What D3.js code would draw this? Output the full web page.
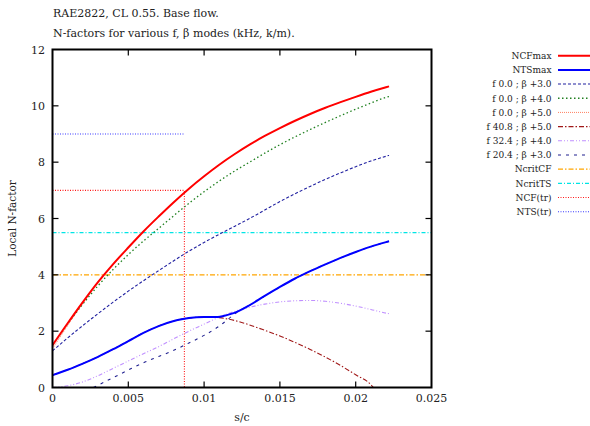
<!DOCTYPE html>
<html>
<head>
<meta charset="utf-8">
<script src="https://cdn.jsdelivr.net/npm/d3@7"></script>
<style>
  html, body { margin: 0; padding: 0; background: #fff; }
  svg { display: block; }
  text { font-family: "DejaVu Serif", serif; fill: #222; }
</style>
</head>
<body>
<svg id="chart" width="590" height="426"></svg>
<script>
// Arc-length positions s/c along the surface
const sPos = [0, 0.001, 0.002, 0.003, 0.004, 0.005, 0.006, 0.007, 0.008, 0.009, 0.010,
              0.011, 0.012, 0.013, 0.014, 0.015, 0.016, 0.017, 0.018, 0.019, 0.020,
              0.021, 0.022, 0.0222];

// Envelope of crossflow modes
const ncfMax = [1.50, 2.28, 3.03, 3.74, 4.38, 4.97, 5.54, 6.07, 6.58, 7.06, 7.50,
                7.91, 8.28, 8.62, 8.93, 9.21, 9.47, 9.71, 9.93, 10.13, 10.32,
                10.50, 10.66, 10.69];
// Stationary crossflow modes (f = 0)
const f0b3 = [1.30, 1.76, 2.20, 2.62, 3.03, 3.42, 3.79, 4.15, 4.50, 4.84, 5.15,
              5.44, 5.72, 6.00, 6.30, 6.60, 6.88, 7.14, 7.39, 7.62, 7.84,
              8.04, 8.21, 8.24];
const f0b4 = [1.50, 2.26, 2.96, 3.61, 4.19, 4.72, 5.20, 5.65, 6.10, 6.54, 6.95,
              7.33, 7.68, 8.00, 8.32, 8.62, 8.90, 9.16, 9.41, 9.65, 9.88,
              10.10, 10.30, 10.33];
const f0b5 = [1.38, 2.20, 3.00, 3.74, 4.38, 4.97, 5.54, 6.07, 6.58, 7.06, 7.50,
              7.91, 8.28, 8.62, 8.93, 9.21, 9.47, 9.71, 9.93, 10.13, 10.32,
              10.50, 10.66, 10.69];

// Travelling modes
const sTS = [0, 0.001, 0.002, 0.003, 0.004, 0.005, 0.006, 0.007, 0.008, 0.0087, 0.009,
             0.010, 0.0108, 0.0115, 0.012, 0.0125, 0.013, 0.014, 0.015, 0.016, 0.017,
             0.018, 0.019, 0.020, 0.021, 0.022, 0.0222];
const ntsMax = [0.44, 0.63, 0.85, 1.09, 1.36, 1.65, 1.94, 2.18, 2.36, 2.44, 2.47,
                2.50, 2.50, 2.57, 2.65, 2.77, 2.92, 3.25, 3.57, 3.87, 4.13,
                4.37, 4.60, 4.81, 5.00, 5.16, 5.19];

const s408 = [0, 0.001, 0.002, 0.003, 0.004, 0.005, 0.006, 0.007, 0.008, 0.009, 0.010,
              0.0107, 0.011, 0.012, 0.013, 0.014, 0.015, 0.016, 0.017, 0.018, 0.019,
              0.020, 0.021, 0.02116];
const f408b5 = [0.44, 0.63, 0.85, 1.09, 1.36, 1.65, 1.94, 2.18, 2.36, 2.47, 2.50,
                2.50, 2.48, 2.38, 2.22, 2.03, 1.83, 1.60, 1.35, 1.08, 0.78,
                0.45, 0.10, 0.00];

const f324b4 = [0.00, 0.06, 0.20, 0.42, 0.68, 0.94, 1.20, 1.45, 1.73, 2.00, 2.25,
                2.50, 2.70, 2.85, 2.96, 3.04, 3.08, 3.09, 3.06, 2.99, 2.89,
                2.77, 2.64, 2.62];

const s204 = [0.0027, 0.003, 0.004, 0.005, 0.006, 0.007, 0.008, 0.009, 0.010, 0.011,
              0.012, 0.0125, 0.013, 0.014, 0.015, 0.016, 0.017, 0.018, 0.019, 0.020,
              0.021, 0.022, 0.0222];
const f204b3 = [0.00, 0.08, 0.35, 0.62, 0.88, 1.10, 1.32, 1.58, 1.85, 2.18,
                2.60, 2.78, 2.92, 3.25, 3.57, 3.87, 4.13, 4.37, 4.60, 4.81,
                5.00, 5.16, 5.19];

// Critical N-factors and transition location
const nCritCF = 4.0;
const nCritTS = 5.5;
const nCF_tr = 7.0;
const nTS_tr = 9.0;
const sTransition = 0.0087;

// Axis ticks
const xTicks = [0, 0.005, 0.01, 0.015, 0.02, 0.025];
const xTickLabels = ["0", "0.005", "0.01", "0.015", "0.02", "0.025"];
const yTicks = [0, 2, 4, 6, 8, 10, 12];

const titleLines = ["RAE2822, CL 0.55. Base flow.",
                    "N-factors for various f, \u03b2 modes (kHz, k/m)."];

const legendLabels = ["NCFmax", "NTSmax", "f 0.0 ; \u03b2 +3.0", "f 0.0 ; \u03b2 +4.0",
                      "f 0.0 ; \u03b2 +5.0", "f 40.8 ; \u03b2 +5.0", "f 32.4 ; \u03b2 +4.0",
                      "f 20.4 ; \u03b2 +3.0", "NcritCF", "NcritTS", "NCF(tr)", "NTS(tr)"];

// ---------------------------------------------------------------------------
const svg = d3.select("#chart");
const mLeft = 52.5, mRight = 431.5, mTop = 49.5, mBottom = 387.5;

const x = d3.scaleLinear().domain([0, 0.025]).range([mLeft, mRight]);
const y = d3.scaleLinear().domain([0, 12]).range([mBottom, mTop]);

svg.append("defs").append("clipPath").attr("id", "plot-clip")
  .append("rect").attr("x", mLeft).attr("y", mTop)
  .attr("width", mRight - mLeft).attr("height", mBottom - mTop);

// Line styles
const styles = {
  ncf:   {color: "#ff0000", width: 2.0, dash: null},
  nts:   {color: "#0000ff", width: 2.0, dash: null},
  b3:    {color: "#2020a0", width: 1.1, dash: "3,2"},
  b4:    {color: "#208020", width: 1.3, dash: "1.5,2.5"},
  b5:    {color: "#ff8060", width: 1.0, dash: "1,1"},
  f408:  {color: "#a01818", width: 1.1, dash: "5,2,1.5,2"},
  f324:  {color: "#c090ff", width: 1.1, dash: "4,2,1,2,1,2"},
  f204:  {color: "#202090", width: 1.1, dash: "3,5"},
  crCF:  {color: "#ffa500", width: 1.3, dash: "5,2,1.5,2"},
  crTS:  {color: "#00e5e5", width: 1.3, dash: "4,2,1,2"},
  trCF:  {color: "#ff1a1a", width: 1.1, dash: "1,1.5"},
  trTS:  {color: "#3a3aff", width: 1.1, dash: "1,1.5"}
};

function applyStyle(sel, st) {
  sel.attr("fill", "none").attr("stroke", st.color).attr("stroke-width", st.width);
  if (st.dash) sel.attr("stroke-dasharray", st.dash);
  return sel;
}

const plot = svg.append("g").attr("clip-path", "url(#plot-clip)");
const line = d3.line().x(d => x(d[0])).y(d => y(d[1])).curve(d3.curveMonotoneX);
const poly = d3.line().x(d => x(d[0])).y(d => y(d[1]));

function drawSeries(xs, ys, st) {
  const pts = xs.map((s, i) => [s, ys[i]]);
  applyStyle(plot.append("path").attr("d", line(pts)), st);
}

// Critical N-factor levels
applyStyle(plot.append("path").attr("d", poly([[0, nCritCF], [0.025, nCritCF]])), styles.crCF);
applyStyle(plot.append("path").attr("d", poly([[0, nCritTS], [0.025, nCritTS]])), styles.crTS);
// Transition markers
applyStyle(plot.append("path").attr("d", poly([[0, nCF_tr], [sTransition, nCF_tr], [sTransition, 0]])), styles.trCF);
applyStyle(plot.append("path").attr("d", poly([[0, nTS_tr], [sTransition, nTS_tr]])), styles.trTS);

// Mode curves
drawSeries(sPos, f0b5, styles.b5);
drawSeries(sPos, f0b4, styles.b4);
drawSeries(sPos, f0b3, styles.b3);
drawSeries(sPos, f324b4, styles.f324);
drawSeries(s204, f204b3, styles.f204);
drawSeries(s408, f408b5, styles.f408);
drawSeries(sPos, ncfMax, styles.ncf);
drawSeries(sTS, ntsMax, styles.nts);

// Frame with inward ticks on all four sides
const frame = svg.append("g").attr("stroke", "#000").attr("stroke-width", 1.2);
const tickLen = 6;
xTicks.forEach(t => {
  if (t === 0 || t === 0.025) return;
  frame.append("line").attr("x1", x(t)).attr("x2", x(t)).attr("y1", mBottom).attr("y2", mBottom - tickLen);
  frame.append("line").attr("x1", x(t)).attr("x2", x(t)).attr("y1", mTop).attr("y2", mTop + tickLen);
});
yTicks.forEach(t => {
  if (t === 0 || t === 12) return;
  frame.append("line").attr("x1", mLeft).attr("x2", mLeft + tickLen).attr("y1", y(t)).attr("y2", y(t));
  frame.append("line").attr("x1", mRight).attr("x2", mRight - tickLen).attr("y1", y(t)).attr("y2", y(t));
});
svg.append("rect").attr("x", mLeft).attr("y", mTop)
  .attr("width", mRight - mLeft).attr("height", mBottom - mTop)
  .attr("fill", "none").attr("stroke", "#000").attr("stroke-width", 2);

// Tick labels
svg.append("g").selectAll("text").data(xTicks).join("text")
  .attr("x", d => x(d)).attr("y", 402)
  .attr("text-anchor", "middle").attr("font-size", 11)
  .text((d, i) => xTickLabels[i]);
svg.append("g").selectAll("text").data(yTicks).join("text")
  .attr("x", 45).attr("y", d => y(d) + 4)
  .attr("text-anchor", "end").attr("font-size", 11)
  .text(d => d);

// Axis titles
svg.append("text").attr("x", (mLeft + mRight) / 2).attr("y", 421)
  .attr("text-anchor", "middle").attr("font-size", 11).text("s/c");
svg.append("text")
  .attr("transform", `translate(16,${(mTop + mBottom) / 2}) rotate(-90)`)
  .attr("text-anchor", "middle").attr("font-size", 10.5).text("Local N-factor");

// Titles
titleLines.forEach((t, i) => {
  svg.append("text").attr("x", 53).attr("y", 17 + i * 20)
    .attr("font-size", 11).text(t);
});

// Legend
const legendStyles = [styles.ncf, styles.nts, styles.b3, styles.b4, styles.b5, styles.f408,
                      styles.f324, styles.f204, styles.crCF, styles.crTS, styles.trCF, styles.trTS];
const legend = svg.append("g");
legendLabels.forEach((lab, i) => {
  const ly = 55.7 + i * 14.18;
  legend.append("text").attr("x", 551.5).attr("y", ly + 3.3)
    .attr("text-anchor", "end").attr("font-size", 9).text(lab);
  applyStyle(legend.append("line").attr("x1", 558).attr("x2", 600)
    .attr("y1", ly).attr("y2", ly), legendStyles[i]);
});
</script>
</body>
</html>
